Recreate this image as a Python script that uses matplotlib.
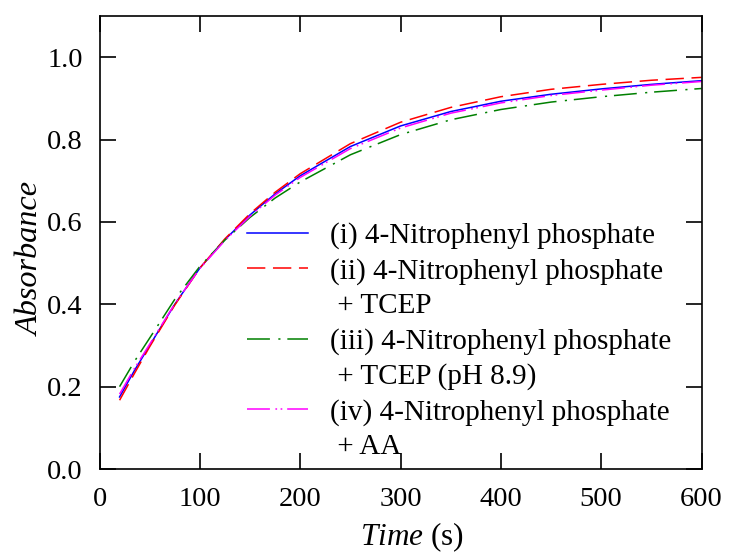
import numpy as np
import matplotlib
matplotlib.use('Agg')
import matplotlib.pyplot as plt
from matplotlib.legend_handler import HandlerLine2D

plt.rcParams.update({
    'font.family': 'Liberation Serif',
    'font.size': 20.5,
    'mathtext.fontset': 'custom',
    'mathtext.rm': 'Liberation Serif',
    'mathtext.it': 'Liberation Serif:italic',
    'axes.linewidth': 1.2,
})

# time points (s)
t = np.array([20, 35, 50, 75, 100, 125, 150, 175, 200, 250, 300, 350, 400, 450, 500, 550, 600])

# absorbance
abs_i = np.array([0.175, 0.240, 0.300, 0.400, 0.488, 0.557, 0.617, 0.668, 0.712,
                  0.783, 0.833, 0.868, 0.893, 0.910, 0.923, 0.934, 0.943])
abs_ii = np.array([0.167, 0.233, 0.297, 0.398, 0.488, 0.559, 0.620, 0.672, 0.717,
                   0.790, 0.842, 0.878, 0.904, 0.922, 0.934, 0.944, 0.951])
abs_iii = np.array([0.200, 0.262, 0.318, 0.412, 0.492, 0.556, 0.611, 0.658, 0.697,
                    0.763, 0.812, 0.848, 0.873, 0.891, 0.904, 0.915, 0.924])
abs_iv = np.array([0.182, 0.245, 0.303, 0.401, 0.487, 0.555, 0.614, 0.665, 0.708,
                   0.778, 0.828, 0.864, 0.889, 0.907, 0.920, 0.932, 0.941])

labels = ['(i) 4-Nitrophenyl phosphate',
          '(ii) 4-Nitrophenyl phosphate\n + TCEP',
          '(iii) 4-Nitrophenyl phosphate\n + TCEP (pH 8.9)',
          '(iv) 4-Nitrophenyl phosphate\n + AA']


class FirstLineHandler(HandlerLine2D):
    # put the legend sample next to the first line of a two-line label
    def __init__(self, shift=0.0, **kw):
        super().__init__(**kw)
        self.shift = shift

    def create_artists(self, legend, orig_handle, xdescent, ydescent,
                       width, height, fontsize, trans):
        return super().create_artists(legend, orig_handle, xdescent,
                                      ydescent - 2 * self.shift * fontsize,
                                      width, height, fontsize, trans)


fig = plt.figure(figsize=(7.29, 5.54), dpi=100)
ax = fig.add_axes([0.1365, 0.1534, 0.8258, 0.8177])

l1, = ax.plot(t, abs_i, '-', color='#0000ff', lw=1.1, label=labels[0])
l2, = ax.plot(t, abs_ii, color='#ff0000', lw=1.1, dashes=(12, 5), label=labels[1])
l3, = ax.plot(t, abs_iii, color='#008000', lw=1.1, dashes=(15, 5.5, 1.4, 4.5), label=labels[2])
l4, = ax.plot(t, abs_iv, color='#ff00ff', lw=1.1, dashes=(15, 3.6, 1.1, 2.3, 1.1, 3.2), label=labels[3])

ax.set_xlim(0, 600)
ax.set_ylim(0, 1.1)
ax.set_xticks(np.arange(0, 601, 100))
ax.set_yticks(np.arange(0, 1.01, 0.2))
ax.yaxis.set_major_formatter(matplotlib.ticker.FormatStrFormatter('%.1f'))
ax.tick_params(direction='in', length=11.5, width=1.2, top=True, right=True)
ax.tick_params(axis='x', pad=13)
ax.tick_params(axis='y', pad=12)

ax.set_xlabel(r'$Time$ (s)', fontsize=22.5)
ax.xaxis.set_label_coords(0.519, -0.113)
ax.set_ylabel('Absorbance', fontsize=23.2, fontstyle='italic')
ax.yaxis.set_label_coords(-0.089, 0.463)

hmap = {l2: FirstLineHandler(0.69), l3: FirstLineHandler(0.69), l4: FirstLineHandler(0.69)}
leg = ax.legend(handler_map=hmap, loc='upper left', bbox_to_anchor=(0.245, 0.545),
                frameon=False, fontsize=21, handlelength=2.1, handletextpad=0.75,
                labelspacing=0.31, borderpad=0, borderaxespad=0)
for txt in leg.get_texts():
    txt.set_linespacing(1.40)

fig.savefig('out.png', dpi=100)
